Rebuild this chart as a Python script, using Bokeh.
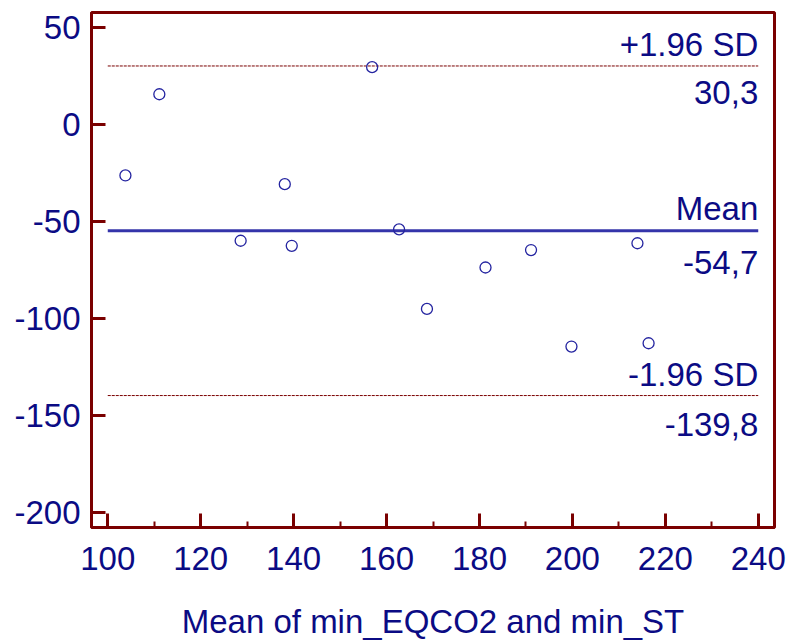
from bokeh.plotting import figure
from bokeh.models import FixedTicker, Range1d, ColumnDataSource
from bokeh.core.properties import value
from bokeh.embed import file_html
from bokeh.resources import INLINE

# Bland-Altman data: mean of the two methods vs. their difference
mean_of_methods = [103.8, 111.1, 128.6, 138.1, 139.6, 156.9, 162.7,
                   168.7, 181.3, 191.1, 199.8, 214.0, 216.4]
difference = [-26.2, 15.7, -59.9, -30.7, -62.5, 29.7, -54.0,
              -95.1, -73.7, -64.7, -114.5, -61.2, -112.8]

bias = -54.7
upper_loa = 30.3
lower_loa = -139.8

x_ticks = [100, 120, 140, 160, 180, 200, 220, 240]
x_tick_labels = ["100", "120", "140", "160", "180", "200", "220", "240"]
y_ticks = [-200, -150, -100, -50, 0, 50]
y_tick_labels = ["-200", "-150", "-100", "-50", "0", "50"]

x_label = "Mean of min_EQCO2 and min_ST"

NAVY = "#0b0b84"
MAROON = "#7a0000"
FONT = "Liberation Sans"
FS = "33px"

p = figure(width=792, height=642, output_backend="svg", toolbar_location=None,
           x_range=Range1d(96.5, 243.5), y_range=Range1d(-207.9, 57.9),
           min_border_left=91, min_border_right=18, min_border_top=12,
           min_border_bottom=114)
p.grid.visible = False
p.outline_line_color = MAROON
p.outline_line_width = 3
p.background_fill_color = "white"
p.border_fill_color = "white"

for ax in (p.xaxis[0], p.yaxis[0]):
    ax.axis_line_color = MAROON
    ax.axis_line_width = 3
    ax.major_tick_line_color = MAROON
    ax.major_tick_line_width = 3
    ax.major_tick_in = 14
    ax.major_tick_out = 0
    ax.minor_tick_line_color = MAROON
    ax.minor_tick_line_width = 2
    ax.major_label_text_color = NAVY
    ax.major_label_text_font = FONT
    ax.major_label_text_font_size = FS
    ax.axis_label_text_color = NAVY
    ax.axis_label_text_font = FONT
    ax.axis_label_text_font_size = FS
    ax.axis_label_text_font_style = "normal"

p.xaxis.ticker = FixedTicker(ticks=x_ticks,
                             minor_ticks=[t + 10 for t in x_ticks[:-1]])
p.xaxis.major_label_overrides = dict(zip(x_ticks, x_tick_labels))
p.xaxis.minor_tick_in = 6
p.xaxis.minor_tick_out = 0
p.xaxis.major_label_standoff = 19
p.xaxis.axis_label = x_label
p.xaxis.axis_label_standoff = 30

p.yaxis.ticker = FixedTicker(ticks=y_ticks, minor_ticks=[])
p.yaxis.major_label_overrides = dict(zip(y_ticks, y_tick_labels))
p.yaxis.major_label_standoff = 11

# reference lines span the tick range of the x axis
x0, x1 = x_ticks[0], x_ticks[-1]
p.line([x0, x1], [upper_loa, upper_loa], line_color=MAROON, line_width=1,
       line_dash="3 1")
p.line([x0, x1], [lower_loa, lower_loa], line_color=MAROON, line_width=1,
       line_dash="3 1")
p.line([x0, x1], [bias, bias], line_color="#3434aa", line_width=3)

p.scatter(mean_of_methods, difference, marker="circle", size=11,
          fill_color=None, line_color="#2424a0", line_width=1.3)

def fmt(v):
    return f"{v:.1f}".replace(".", ",")

labels = ColumnDataSource(dict(
    x=[x1] * 6,
    y=[upper_loa, upper_loa, bias, bias, lower_loa, lower_loa],
    text=["+1.96 SD", fmt(upper_loa), "Mean", fmt(bias), "-1.96 SD", fmt(lower_loa)],
    dy=[-21, 27, -22, 32, -21, 29],
))
p.text(x="x", y="y", text="text", y_offset="dy", source=labels,
       text_align="right", text_baseline="alphabetic",
       text_color=NAVY, text_font=value(FONT), text_font_size=FS)

open("out.html", "w").write(file_html(p, INLINE))
